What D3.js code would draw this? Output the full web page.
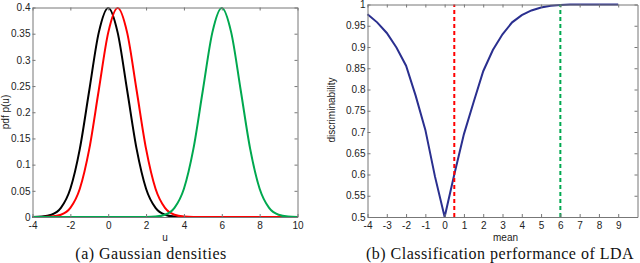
<!DOCTYPE html>
<html>
<head>
<meta charset="utf-8">
<script src="https://cdn.jsdelivr.net/npm/d3@7"></script>
<style>
  body { margin: 0; background: #fff; }
  svg text { font-family: "Liberation Sans", Arial, sans-serif; fill: #222; }
  .caption { font-family: "Liberation Serif", "DejaVu Serif", serif; font-size: 16px; letter-spacing: 0.5px; fill: #111; }
</style>
</head>
<body>
<div id="chart"></div>
<script>
// (a) densities on a 0.5 grid
var uGrid = [-4, -3.5, -3, -2.5, -2, -1.5, -1, -0.5, 0, 0.5, 1, 1.5, 2, 2.5, 3, 3.5, 4,
             4.5, 5, 5.5, 6, 6.5, 7, 7.5, 8, 8.5, 9, 9.5, 10];
var pdfBlack = [0.0001, 0.0009, 0.0044, 0.0175, 0.054, 0.130, 0.242, 0.352, 0.399, 0.352, 0.242, 0.130, 0.054, 0.0175, 0.0044, 0.0009, 0.0001,
                0, 0, 0, 0, 0, 0, 0, 0, 0, 0, 0, 0];
var pdfRed   = [0.00002, 0.0001, 0.0009, 0.0044, 0.0175, 0.054, 0.130, 0.242, 0.352, 0.399, 0.352, 0.242, 0.130, 0.054, 0.0175, 0.0044, 0.0009,
                0.0001, 0, 0, 0, 0, 0, 0, 0, 0, 0, 0, 0];
var pdfGreen = [0, 0, 0, 0, 0, 0, 0, 0, 0, 0, 0, 0, 0.0001, 0.0009, 0.0044, 0.0175, 0.054,
                0.130, 0.242, 0.352, 0.399, 0.352, 0.242, 0.130, 0.054, 0.0175, 0.0044, 0.0009, 0.0001];

// (b) discriminability vs mean
var means = [-4, -3.5, -3, -2.5, -2, -1.5, -1, -0.5, 0, 0.5, 1, 1.5, 2, 2.5, 3, 3.5, 4,
             4.5, 5, 5.5, 6, 6.5, 7, 7.5, 8, 8.5, 9];
var discrim = [0.977, 0.958, 0.933, 0.899, 0.856, 0.785, 0.705, 0.595, 0.500, 0.600, 0.695, 0.770, 0.843, 0.893, 0.930, 0.958, 0.975,
               0.986, 0.993, 0.997, 0.999, 1.0, 1.0, 1.0, 1.0, 1.0, 1.0];
var markerMeans = [0.5, 6];

var ticksA_x = [-4, -2, 0, 2, 4, 6, 8, 10];
var ticksA_y = [0, 0.05, 0.1, 0.15, 0.2, 0.25, 0.3, 0.35, 0.4];
var ticksB_x = [-4, -3, -2, -1, 0, 1, 2, 3, 4, 5, 6, 7, 8, 9];
var ticksB_y = [0.5, 0.55, 0.6, 0.65, 0.7, 0.75, 0.8, 0.85, 0.9, 0.95, 1];

var width = 640, height = 263;
var axisColor = "#777";
var fmt = function (d) { return String(d); };   // plain hyphen, like the original

var svg = d3.select("#chart").append("svg")
    .attr("width", width)
    .attr("height", height);

function drawFrame(x, y, xt, yt) {
    var g = svg.append("g");
    var x0 = x.range()[0], x1 = x.range()[1], y0 = y.range()[0], y1 = y.range()[1];
    var tl = 3;
    // bottom axis
    g.append("g").attr("transform", "translate(0," + y0 + ")")
        .call(d3.axisBottom(x).tickValues(xt).tickSizeInner(-tl).tickSizeOuter(0).tickPadding(5).tickFormat(fmt));
    // top ticks
    g.append("g").attr("transform", "translate(0," + y1 + ")")
        .call(d3.axisTop(x).tickValues(xt).tickSizeInner(-tl).tickSizeOuter(0).tickFormat(""));
    // left
    g.append("g").attr("transform", "translate(" + x0 + ",0)")
        .call(d3.axisLeft(y).tickValues(yt).tickSizeInner(-tl).tickSizeOuter(0).tickPadding(2).tickFormat(fmt));
    // right
    g.append("g").attr("transform", "translate(" + x1 + ",0)")
        .call(d3.axisRight(y).tickValues(yt).tickSizeInner(-tl).tickSizeOuter(0).tickFormat(""));
    g.selectAll(".domain").attr("stroke", axisColor);
    g.selectAll(".tick line").attr("stroke", axisColor);
    g.selectAll(".tick text").attr("font-size", 10).attr("fill", "#222")
        .attr("font-family", "Liberation Sans, Arial, sans-serif");
    return g;
}

// ---------- (a) ----------
var xA = d3.scaleLinear().domain([-4, 10]).range([32.5, 297.5]);
var yA = d3.scaleLinear().domain([0, 0.4]).range([217, 7.5]);

var lineA = function (ys) {
    return d3.line()
        .x(function (d, i) { return xA(uGrid[i]); })
        .y(function (d) { return yA(d); })
        .curve(d3.curveMonotoneX)(ys);
};

[[pdfBlack, "#000"], [pdfRed, "#f00"], [pdfGreen, "#00a84f"]].forEach(function (s) {
    svg.append("path")
        .attr("d", lineA(s[0]))
        .attr("fill", "none")
        .attr("stroke", s[1])
        .attr("stroke-width", 2);
});
drawFrame(xA, yA, ticksA_x, ticksA_y);

svg.append("text").attr("x", 165).attr("y", 240.5).attr("text-anchor", "middle")
    .attr("font-size", 10).text("u");
svg.append("text").attr("transform", "translate(9,112)rotate(-90)").attr("text-anchor", "middle")
    .attr("font-size", 10).text("pdf p(u)");
svg.append("text").attr("class", "caption").attr("x", 151).attr("y", 258.5)
    .attr("text-anchor", "middle").text("(a) Gaussian densities");

// ---------- (b) ----------
var xB = d3.scaleLinear().domain([-4, 10]).range([367.5, 637.5]);
var yB = d3.scaleLinear().domain([0.5, 1]).range([217, 4.5]);

svg.append("path")
    .datum(discrim)
    .attr("d", d3.line()
        .x(function (d, i) { return xB(means[i]); })
        .y(function (d) { return yB(d); }))
    .attr("fill", "none")
    .attr("stroke", "#2a2f8f")
    .attr("stroke-width", 2);

svg.selectAll(".marker")
    .data(markerMeans)
    .enter().append("line")
    .attr("class", "marker")
    .attr("x1", function (d) { return xB(d); })
    .attr("x2", function (d) { return xB(d); })
    .attr("y1", yB(0.5))
    .attr("y2", yB(1))
    .attr("stroke", function (d, i) { return i === 0 ? "#f00" : "#00a84f"; })
    .attr("stroke-width", 2)
    .attr("stroke-dasharray", "4,3");

drawFrame(xB, yB, ticksB_x, ticksB_y);

svg.append("text").attr("x", 505.5).attr("y", 240.5).attr("text-anchor", "middle")
    .attr("font-size", 10).text("mean");
svg.append("text").attr("transform", "translate(335,110)rotate(-90)").attr("text-anchor", "middle")
    .attr("font-size", 10).text("discriminability");
svg.append("text").attr("class", "caption").attr("x", 500).attr("y", 258.5)
    .attr("text-anchor", "middle").text("(b) Classification performance of LDA");
</script>
</body>
</html>
